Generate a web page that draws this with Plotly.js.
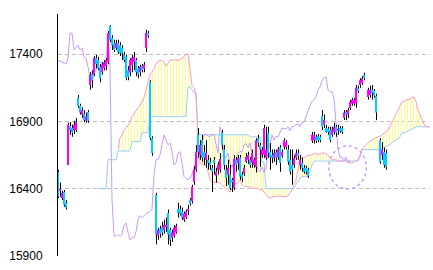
<!DOCTYPE html>
<html><head><meta charset="utf-8">
<script src="https://cdn.plot.ly/plotly-3.0.1.min.js"></script>
<style>html,body{margin:0;padding:0;background:#fff}#chart{width:433px;height:270px}</style>
</head><body><div id="chart"></div>
<script>
// Candles (one per period, null = no bar)
const open=[16525,16385,16330,16375,16295,16575,16865,16850,16830,16835,
17075,17015,16950,16955,16905,16970,17170,17250,17250,17370,
17355,17305,17265,17295,17310,17340,17610,17520,17480,17445,
17480,17465,17445,17395,17380,17280,17260,17320,17340,17355,
17295,17265,17310,17290,17445,17555,17190,16775,null,16355,
16050,16100,16115,16090,16115,16220,16095,16035,16050,16075,
16250,16245,16230,16170,16190,16235,16315,16305,16450,16540,
16800,16650,16760,16675,16615,16615,16600,16555,16615,16495,
16540,16540,16815,16690,16540,16505,16505,16465,16405,16615,
16590,16630,16505,16510,16600,16615,16615,16590,16575,16560,
16775,16725,16650,16650,16630,16815,16675,16650,16630,16675,
16635,16705,16645,16710,16710,16690,16615,16575,16575,16630,
16665,16575,16590,16555,16555,16540,null,16755,16760,16785,
16790,16785,16940,16875,16850,16845,16835,16800,16820,16860,
16830,16850,16850,16925,16970,16950,17000,17030,17030,17035,
17150,17170,17185,17245,null,17080,17095,17135,17125,17090,
null,16760,16650,16675,16665];
const high=[16540,16445,16385,16390,16315,16890,16895,16875,16905,16925,
17095,17030,17005,16985,16965,16985,17265,17280,17385,17395,
17380,17325,17340,17355,17370,17570,17615,17540,17505,17505,
17505,17490,17465,17415,17395,17310,17370,17395,17415,17370,
17310,17320,17325,17340,17580,17570,17205,16790,null,16370,
16110,16125,16155,16170,16185,16245,16110,16095,16130,16140,
16295,16275,16260,16230,16245,16280,16330,16430,16570,16725,
16850,16760,16800,16725,16760,16650,16630,16575,16635,16555,
16600,16665,16835,16725,16575,16615,16575,16480,16650,16635,
16650,16650,16525,16575,16665,16675,16635,16690,16630,16775,
16800,16740,16710,16875,16860,16860,16740,16690,16690,16690,
16710,16725,16690,16775,16760,16725,16690,16690,16650,16690,
16690,16650,16630,16575,16570,16555,null,16820,16820,16800,
16805,16800,16985,16950,16875,16860,16860,16860,16890,16875,
16875,16865,16865,16985,16985,17000,17060,17075,17075,17170,
17165,17220,17235,17260,null,17150,17165,17170,17140,17105,
null,16775,16745,16705,16690];
const low=[16330,16340,16315,16265,16245,16575,16800,16785,16805,16820,
17000,16950,16925,16895,16890,16890,17135,17150,17235,17295,
17280,17190,17245,17280,17280,17325,17490,17430,17415,17430,
17400,17385,17355,17340,17205,17205,17235,17265,17280,17235,
17220,17235,17265,17265,17415,17520,16760,16645,null,15985,
16020,16035,16050,16065,16080,15985,15975,16005,16035,16065,
16185,16200,16170,16155,16175,16205,16275,16290,16430,16525,
16630,16615,16600,16575,16555,16540,16540,16375,16505,16445,
16505,16520,16690,16540,16420,16430,16390,16375,16390,16525,
16540,16465,16450,16495,16590,16585,16555,16555,16555,16520,
16710,16560,16630,16630,16615,16630,16540,16590,16600,16575,
16615,16525,16630,16690,16690,16575,16505,16430,16555,16615,
16615,16540,16525,16510,16505,16480,null,16740,16735,16740,
16745,16745,16835,16850,16815,16800,16745,16785,16800,16785,
16800,16815,16805,16910,16910,16925,16985,17015,17015,17000,
17110,17150,17170,17205,null,17060,17075,17060,17075,16910,
null,16585,16615,16555,16540];
const close=[16340,16400,16370,16280,16260,16875,16835,16815,16875,16895,
17015,16965,16985,16910,16935,16905,17245,17205,17370,17325,
17295,17220,17320,17335,17355,17555,17505,17465,17430,17480,
17415,17405,17405,17355,17220,17230,17355,17370,17380,17265,
17250,17305,17280,17320,17555,17535,16775,16665,null,16060,
16095,16065,16075,16130,16130,16060,16020,16075,16110,16125,
16220,16215,16185,16215,16230,16250,16290,16415,16540,16675,
16675,16725,16630,16630,16665,16590,16575,16525,16590,16525,
16575,16620,16725,16575,16480,16555,16405,16445,16620,16575,
16630,16490,16480,16555,16635,16650,16575,16665,16615,16760,
16740,16690,16690,16850,16690,16665,16635,16630,16665,16630,
16690,16590,16675,16760,16745,16600,16525,16540,16630,16665,
16645,16615,16555,16525,16525,16495,null,16800,16800,16755,
16760,16760,16860,16910,16820,16820,16760,16835,16860,16815,
16845,16830,16820,16965,16950,16985,17045,17060,17060,17150,
17125,17205,17220,17220,null,17135,17135,17110,17090,16965,
null,16600,16690,16575,16560];

// Chikou span (lagging line), starts at period 0
const chikou=[17340,17355,17335,17335,17325,17370,17555,17555,17430,17445,
17465,17430,17445,17380,17370,17305,17220,17190,17260,17280,
17340,17340,17335,17340,17335,17540,17305,16320,16050,16045,
16060,16045,16060,16130,16145,16075,16020,16035,16035,16080,
16170,16200,16185,16200,16215,16220,16230,16245,16505,16615,
16615,16650,16725,16800,16760,16725,16740,16675,16575,16590,
16665,16675,16590,16490,16475,16465,16480,16505,16555,16590,
16635,16690,16740,16800,16805,16790,16785,16805,16800,16740,
16665,16860,16800,16635,16630,16665,16590,16560,16600,16615,
16665,16675,16675,16725,16735,16705,16740,16665,16575,16600,
16540,16525,16560,16520,16555,16665,16740,16800,16760,16790,
16785,16815,16850,16845,16845,16860,16830,16860,16865,16875,
16880,16860,16895,16895,16935,16985,17015,17045,17060,17080,
17135,17155,17200,17220,17230,17135,17120,17120,17075,16910,
16690,16630,16635,16605,16635,16590,16615];

// Leading span B, starts at period 20
const spanBStart=20;
const spanB=[16400,16400,16400,16400,16400,16615,16615,16615,16615,16615,
16680,16680,16680,16680,16680,16680,16680,16750,16750,16750,
16750,16750,16815,16815,16815,16815,16935,16935,16935,16935,
16935,16935,16935,16935,16935,16935,16935,16935,16935,16935,
16935,16935,16935,16935,16935,17155,17155,17135,17110,17110,
16800,16800,16800,16800,16800,16800,16800,16800,16800,16800,
16800,16800,16800,16800,16800,16800,16800,16800,16800,16800,
16800,16800,16800,16800,16800,16800,16785,16785,16785,16785,
16785,16785,16600,16600,16400,16400,16400,16400,16400,16400,
16400,16400,16400,16400,16400,16400,16400,16400,16400,16430,
16450,16480,16490,16490,16490,16490,16525,16575,16605,16605,
16605,16605,16605,16605,16605,16605,16605,16605,16605,16605,
16605,16605,16605,16605,16605,16605,16605,16605,16605,16605,
16605,16635,16690,16690,16690,16690,16690,16690,16690,16690,
16690,16690,16705,16705,16710,16720,16725,16740,16755,16760,
16775,16785,16815,16815,16820,16830,16835,16845,16850,16860,
16860,16860,16860,16860,16860,16860,16860];

// Leading span A, starts at period 30
const spanAStart=30;
const spanA=[16690,16775,16800,16835,16850,16875,16895,16935,16960,16975,
17000,17020,17050,17075,17135,17185,17245,17265,17295,17325,
17340,17355,17350,17340,17310,17335,17355,17355,17355,17355,
17350,17355,17370,17380,17400,17400,17280,17165,17150,17095,
16760,16590,16585,16575,16570,16525,16465,16450,16450,16445,
16445,16445,16430,16415,16405,16390,16375,16405,16430,16435,
16450,16465,16430,16415,16415,16415,16415,16405,16405,16405,
16400,16390,16390,16375,16355,16340,16330,16340,16340,16345,
16345,16345,16340,16340,16340,16345,16370,16390,16430,16465,
16540,16615,16630,16635,16635,16650,16650,16650,16660,16665,
16650,16660,16665,16665,16660,16650,16630,16615,16615,16615,
16605,16605,16605,16605,16615,16600,16590,16590,16600,16605,
16615,16650,16690,16710,16725,16740,16755,16760,16770,16775,
16785,16790,16800,16805,16820,16835,16860,16895,16925,16955,
16985,17015,17045,17050,17060,17060,17065,17080,17080,17045,
16985,16950,16910,16880,16860,16860,16860];

const yTicks=[15900,16400,16900,17400];
const yTickText=['15900','16400','16900','17400'];

const UP='#ff00ff', DOWN='#00ccff';

const idx=open.map((_,i)=>i);
const wx=[],wb=[],wh=[];
const ux=[],ub=[],uh=[],dx=[],db=[],dh=[];
idx.forEach(i=>{
  if(open[i]===null) return;
  wx.push(i); wb.push(low[i]); wh.push(high[i]-low[i]);
  const lo=Math.min(open[i],close[i]), hgt=Math.abs(close[i]-open[i]);
  if(close[i]>=open[i]){ux.push(i);ub.push(lo);uh.push(hgt);}
  else {dx.push(i);db.push(lo);dh.push(hgt);}
});
const chX=chikou.map((_,i)=>i);
const bX=spanB.map((_,i)=>i+spanBStart);
const aX=spanA.map((_,i)=>i+spanAStart);
const bForFill=spanB.slice(spanAStart-spanBStart);

const traces=[
  {x:aX,y:bForFill,type:'scatter',mode:'lines',line:{width:0,color:'rgba(0,0,0,0)'},hoverinfo:'skip'},
  {x:aX,y:spanA,type:'scatter',mode:'lines',line:{width:0,color:'rgba(0,0,0,0)'},fill:'tonexty',
   fillcolor:'rgba(255,255,255,0)',
   fillpattern:{shape:'|',size:3,solidity:0.34,fgcolor:'#ffff80',bgcolor:'rgba(255,255,255,0)'},hoverinfo:'skip'},
  {x:bX,y:spanB,type:'scatter',mode:'lines',line:{width:1,color:'#99ccff'}},
  {x:aX,y:spanA,type:'scatter',mode:'lines',line:{width:1,color:'#ff99cc'}},
  {x:chX,y:chikou,type:'scatter',mode:'lines',line:{width:1,color:'#cc99ff'}},
  {x:wx,y:wh,base:wb,type:'bar',width:0.5,offset:0,xaxis:'x2',yaxis:'y2',marker:{color:'#000',opacity:1,line:{width:0}}},
  {x:ux,y:uh,base:ub,type:'bar',width:1,offset:-0.5,xaxis:'x2',yaxis:'y2',marker:{color:UP,opacity:1,line:{width:0}}},
  {x:dx,y:dh,base:db,type:'bar',width:1,offset:-0.5,xaxis:'x2',yaxis:'y2',marker:{color:DOWN,opacity:1,line:{width:0}}}
];

const yRange=[15900,17697], xRange=[0,186];
const layout={
  width:433,height:270,margin:{l:58,r:3,t:14,b:14},
  paper_bgcolor:'#fff',plot_bgcolor:'#fff',showlegend:false,barmode:'overlay',
  xaxis:{range:xRange,visible:false,fixedrange:true},
  xaxis2:{range:xRange,visible:false,overlaying:'x',anchor:'y2'},
  yaxis2:{range:yRange,visible:false,overlaying:'y',anchor:'x2'},
  yaxis:{range:yRange,tickvals:yTicks,ticktext:yTickText,showline:true,linecolor:'#000',linewidth:1,
    showgrid:true,gridcolor:'#c0c0c0',gridwidth:1,griddash:'4px,3px',zeroline:false,
    ticks:'outside',ticklen:12,tickcolor:'rgba(0,0,0,0)',
    tickfont:{family:'Liberation Sans, Arial, sans-serif',size:12,color:'#000'}},
  shapes:[{type:'circle',xref:'x',yref:'y',x0:135.4,x1:154.2,y0:16397,y1:16718,
    line:{color:'#cc99ff',width:1.5,dash:'dot'}}]
};
Plotly.newPlot('chart',traces,layout,{staticPlot:true,displayModeBar:false});
</script></body></html>
